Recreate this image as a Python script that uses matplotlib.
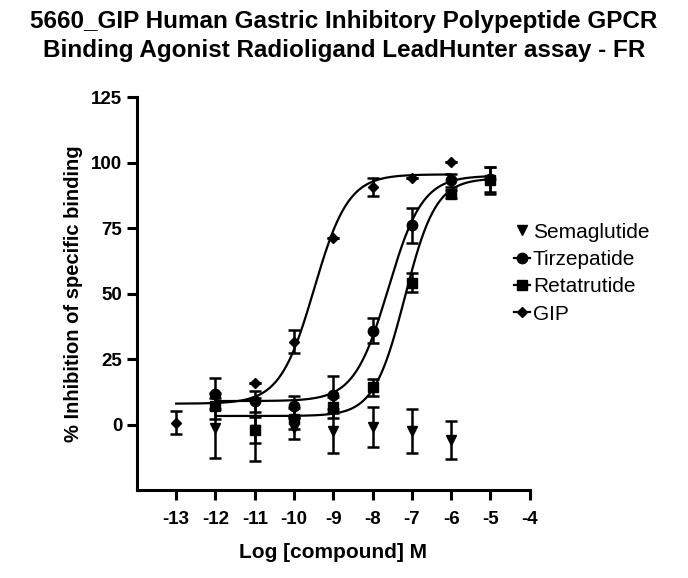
import numpy as np
import matplotlib
matplotlib.use("Agg")
import matplotlib.pyplot as plt
from matplotlib.lines import Line2D

plt.rcParams['font.family'] = ['Liberation Sans', 'DejaVu Sans']
plt.rcParams['axes.unicode_minus'] = False

# log concentrations (M)
x_sema = [-12, -11, -10, -9, -8, -7, -6]
y_sema = [-1.3, -2.0, -1.3, -2.5, -1.0, -2.5, -6.0]
e_sema = [11.6, 12.0, 4.0, 8.5, 7.7, 8.4, 7.3]

x_tirz = [-12, -11, -10, -9, -8, -7, -6, -5]
y_tirz = [11.8, 8.9, 7.0, 11.4, 35.8, 76.1, 93.2, 93.6]
e_tirz = [6.0, 4.0, 4.0, 7.0, 4.8, 6.6, 2.5, 4.9]

x_reta = [-12, -11, -10, -9, -8, -7, -6, -5]
y_reta = [7.2, -1.9, 2.2, 6.6, 14.2, 54.2, 87.9, 93.2]
e_reta = [5.0, 5.0, 4.0, 4.0, 3.3, 3.5, 1.5, 5.0]

x_gip = [-13, -11, -10, -9, -8, -7, -6]
y_gip = [0.8, 15.7, 31.7, 71.3, 90.7, 94.1, 100.2]
e_gip = [4.5, 0.0, 4.3, 0.0, 3.6, 0.0, 0.0]

# 4PL fit parameters: bottom, top, logEC50, hill, curve range
fit_tirz = (9.0, 95.0, -7.6, 1.0, -12, -5)
fit_reta = (3.3, 94.0, -7.18, 1.1, -12, -5)
fit_gip = (8.0, 95.5, -9.49, 1.0, -13, -6)


def four_pl(fit):
    bottom, top, x0, hill, lo, hi = fit
    xs = np.linspace(lo, hi, 300)
    return xs, bottom + (top - bottom) / (1 + 10 ** (hill * (x0 - xs)))


fig = plt.figure(figsize=(6.88, 5.78), dpi=100)
ax = fig.add_axes([0.199, 0.152, 0.571, 0.680])

for fit in (fit_tirz, fit_reta, fit_gip):
    xs, ys = four_pl(fit)
    ax.plot(xs, ys, color='black', lw=1.6)

series = [
    (x_sema, y_sema, e_sema, 'v', 7.5),
    (x_tirz, y_tirz, e_tirz, 'o', 7.5),
    (x_reta, y_reta, e_reta, 's', 7),
    (x_gip, y_gip, e_gip, 'D', 5.5),
]
for xv, yv, ev, mk, ms in series:
    ax.errorbar(xv, yv, yerr=ev, fmt=mk, color='black', ms=ms,
                elinewidth=1.8, capsize=4, capthick=1.8)

ax.set_xlim(-14, -4)
ax.set_ylim(-25, 125)
ax.set_xticks(range(-13, -3))
ax.set_yticks([0, 25, 50, 75, 100, 125])
for s in ['top', 'right']:
    ax.spines[s].set_visible(False)
for s in ['left', 'bottom']:
    ax.spines[s].set_linewidth(2.2)
ax.tick_params(width=2.2, length=7, labelsize=13.5)
ax.tick_params(axis='x', pad=8)
for lab in ax.get_xticklabels() + ax.get_yticklabels():
    lab.set_fontweight('bold')

ax.set_xlabel('Log [compound] M', fontsize=15, fontweight='bold', labelpad=11)
ax.set_ylabel('% Inhibition of specific binding', fontsize=14.5, fontweight='bold', labelpad=6)

fig.suptitle('5660_GIP Human Gastric Inhibitory Polypeptide GPCR\n'
             'Binding Agonist Radioligand LeadHunter assay - FR',
             fontsize=17.5, fontweight='bold', y=0.983, linespacing=1.35)

handles = [
    Line2D([], [], color='black', marker='v', ms=7.5, lw=0),
    Line2D([], [], color='black', marker='o', ms=7.5, lw=1.6),
    Line2D([], [], color='black', marker='s', ms=7, lw=1.6),
    Line2D([], [], color='black', marker='D', ms=5.5, lw=1.6),
]
fig.legend(handles, ['Semaglutide', 'Tirzepatide', 'Retatrutide', 'GIP'],
           loc='upper left', bbox_to_anchor=(0.72, 0.647), frameon=False,
           fontsize=15, handlelength=0.75, handletextpad=0.15, labelspacing=0.4)

fig.savefig('out.png', dpi=100)
